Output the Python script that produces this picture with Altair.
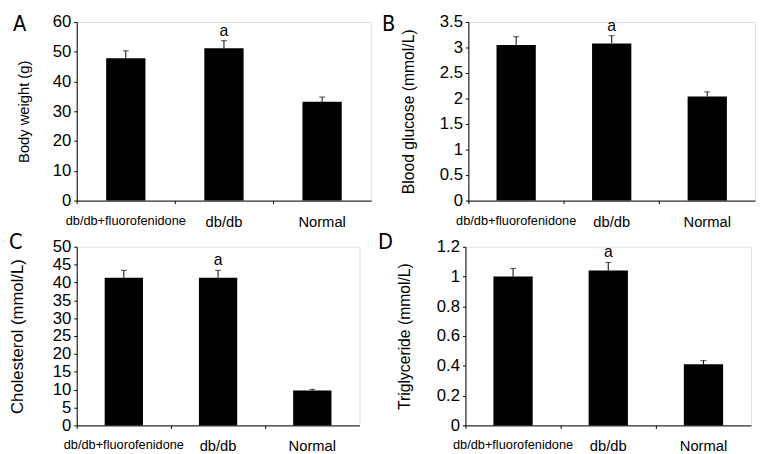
import altair as alt
import pandas as pd

groups = ["db/db+fluorofenidone", "db/db", "Normal"]
marks = ["", "a", ""]

weight = [47.8, 51.2, 33.2]
weight_err = [2.5, 2.5, 1.6]
weight_ticks = [0, 10, 20, 30, 40, 50, 60]

glucose = [3.05, 3.08, 2.04]
glucose_err = [0.16, 0.15, 0.09]
glucose_ticks = [0, 0.5, 1, 1.5, 2, 2.5, 3, 3.5]

chol = [41.3, 41.3, 9.8]
chol_err = [2.1, 2.1, 0.3]
chol_ticks = [0, 5, 10, 15, 20, 25, 30, 35, 40, 45, 50]

tg = [1.0, 1.04, 0.41]
tg_err = [0.055, 0.055, 0.025]
tg_ticks = [0, 0.2, 0.4, 0.6, 0.8, 1.0, 1.2]

FONT = "Liberation Sans"
LETTER_FONT = "Liberation Sans Narrow, DejaVu Sans Condensed, Liberation Sans"


def panel(vals, errs, ytitle, yticks, letter, w, h, bar_w, lx, ly, tx, tfs):
    df = pd.DataFrame({"group": groups, "value": vals, "err": errs, "mark": marks})
    base = alt.Chart(df).transform_calculate(top="datum.value + datum.err")

    x = alt.X(
        "group:N",
        sort=groups,
        scale=alt.Scale(paddingInner=0, paddingOuter=0),
        axis=alt.Axis(
            title=None,
            labelAngle=0,
            bandPosition=0,
            tickSize=3,
            labelPadding=11,
            labelOverlap=False,
            labelFont=FONT,
            labelFontSize={
                "condition": {"test": f"datum.value == '{groups[0]}'", "value": 13},
                "value": 15,
            },
            labelColor="black",
            domainColor="black",
            tickColor="black",
        ),
    )

    def yenc(field):
        return alt.Y(
            field,
            scale=alt.Scale(domain=[0, yticks[-1]], nice=False, zero=True),
            axis=alt.Axis(
                values=yticks,
                format="~r",
                title=ytitle,
                titleX=tx,
                titleY=h / 2,
                titleAngle=-90,
                titleAlign="center",
                titleBaseline="middle",
                titleFont=FONT,
                titleFontSize=tfs,
                titleFontWeight="normal",
                titleColor="black",
                labelFont=FONT,
                labelFontSize=17,
                labelColor="black",
                labelPadding=3,
                tickSize=3,
                tickColor="black",
                domainColor="black",
                grid=False,
            ),
        )

    bars = base.mark_bar(color="black", width=bar_w).encode(x=x, y=yenc("value:Q"))
    rule = base.mark_rule(color="black", strokeWidth=1).encode(
        x=x, y=yenc("value:Q"), y2="top:Q"
    )
    cap = base.mark_tick(color="black", thickness=1, size=6).encode(x=x, y=yenc("top:Q"))
    ann = base.mark_text(
        font=FONT, fontSize=16, baseline="alphabetic", dy=-5, color="black"
    ).encode(x=x, y=yenc("top:Q"), text="mark:N")
    lab = alt.Chart(pd.DataFrame({"t": [letter]})).mark_text(
        align="left", baseline="top", font=LETTER_FONT, fontSize=22, color="black"
    ).encode(x=alt.value(lx), y=alt.value(ly), text="t:N")

    return alt.layer(bars, rule, cap, ann, lab).properties(width=w, height=h)


A = panel(weight, weight_err, "Body weight (g)", weight_ticks, "A", 300, 182, 40, -65, -8, -54, 15)
B = panel(glucose, glucose_err, "Blood glucose (mmol/L)", glucose_ticks, "B", 292, 182, 40, -88, -8, -61, 16)
C = panel(chol, chol_err, "Cholesterol (mmol/L)", chol_ticks, "C", 288, 182, 39, -69, -15, -60, 17)
D = panel(tg, tg_err, "Triglyceride (mmol/L)", tg_ticks, "D", 291, 182, 40, -89, -15, -62, 16)

chart = (
    alt.vconcat(
        alt.hconcat(A, B, spacing=9),
        alt.hconcat(C, D, spacing=17),
        spacing=0,
    )
    .properties(padding=0, background="white")
    .configure_view(stroke=None)
    .configure(font=FONT)
)

chart.save("out.html", embed_options={"renderer": "svg", "actions": False})
